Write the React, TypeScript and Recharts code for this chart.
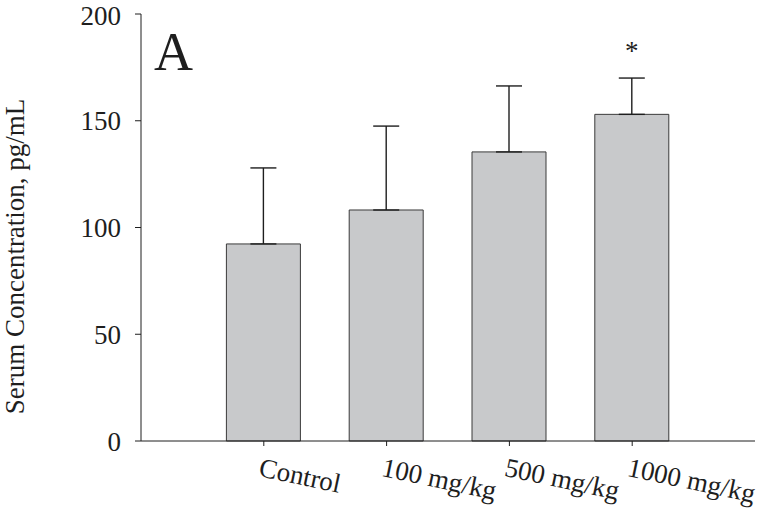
import { BarChart, Bar, XAxis, YAxis, ErrorBar, LabelList } from 'recharts';

const groups = ['Control', '100 mg/kg', '500 mg/kg', '1000 mg/kg'];
const positions = [1, 2, 3, 4];
const means = [92.3, 108.2, 135.4, 153.0];
const errors = [35.6, 39.3, 30.9, 17.0];
const marks = ['', '', '', '*'];
const yTicks = [0, 50, 100, 150, 200];

const data = groups.map((name, i) => ({
  x: positions[i],
  name,
  mean: means[i],
  err: [0, errors[i]],
  sig: marks[i],
}));

const font = '"Liberation Serif", "Times New Roman", serif';
const ink = '#1e1e1e';

function GroupTick(props: any) {
  const { x, y, payload } = props;
  const idx = positions.indexOf(payload.value);
  return (
    <text
      x={x - 2}
      y={y}
      dy="0.71em"
      textAnchor="start"
      transform={`rotate(12, ${x - 2}, ${y})`}
      fontFamily={font}
      fontSize={27}
      fill={ink}
    >
      {groups[idx]}
    </text>
  );
}

function SigLabel(props: any) {
  const { x, y, width, height, value, index } = props;
  if (!value) return null;
  const pxPerUnit = height / means[index];
  const top = y - errors[index] * pxPerUnit;
  return (
    <text x={x + width / 2} y={top - 18} textAnchor="middle" fontFamily={font} fontSize={27} fill={ink}>
      {value}
    </text>
  );
}

function YTitle(props: any) {
  const { viewBox } = props;
  const cy = viewBox.y + viewBox.height / 2 + 29;
  return (
    <text
      x={24}
      y={cy}
      transform={`rotate(-90, 24, ${cy})`}
      textAnchor="middle"
      fontFamily={font}
      fontSize={27}
      fill={ink}
    >
      Serum Concentration, pg/mL
    </text>
  );
}

export default function App() {
  return (
    <div style={{ position: 'absolute', left: 0, top: 0, width: 762, height: 514, background: '#fff' }}>
      <BarChart width={762} height={514} data={data} margin={{ top: 14, right: 7, left: 0, bottom: 0 }}>
        <XAxis
          dataKey="x"
          type="number"
          domain={[0, 5]}
          ticks={positions}
          tick={<GroupTick />}
          tickSize={5}
          tickMargin={11}
          height={73}
          interval={0}
          stroke={ink}
          tickLine={{ stroke: ink }}
        />
        <YAxis
          domain={[0, 200]}
          ticks={yTicks}
          width={141}
          tickSize={6}
          tickMargin={14}
          stroke={ink}
          tick={{ fontFamily: font, fontSize: 27, fill: ink }}
          label={<YTitle />}
        />
        <Bar dataKey="mean" barSize={74} fill="#c8c9cb" stroke="#3a3a3a" strokeWidth={1} isAnimationActive={false}>
          <ErrorBar dataKey="err" direction="y" width={13} stroke={ink} strokeWidth={1.4} />
          <LabelList dataKey="sig" content={<SigLabel />} />
        </Bar>
        <text x={154} y={70} fontFamily={font} fontSize={54} fill={ink}>
          A
        </text>
      </BarChart>
    </div>
  );
}
